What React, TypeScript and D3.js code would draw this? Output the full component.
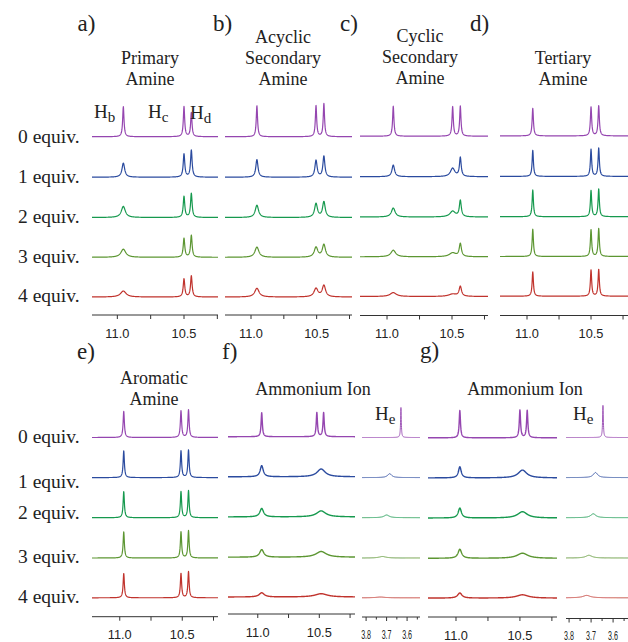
import React from "react";
import * as d3 from "d3";

// ---------- data ----------
const equivLabels = ["0 equiv.", "1 equiv.", "2 equiv.", "3 equiv.", "4 equiv."];
const traceColors = ["#9546b0", "#2b4b9f", "#16994e", "#5c9632", "#c0332d"];
const mainTickValues = [11.25, 11.0, 10.75, 10.5, 10.25];
const mainTickLabels = ["11.0", "10.5"];
const heTickValues = [3.8, 3.75, 3.7, 3.65, 3.6, 3.55];
const heTickLabels = ["3.8", "3.7", "3.6"];

// each peak: [ppm, relative intensity, half-width (ppm)]
type Peak = [number, number, number];

const primaryAmine: Peak[][] = [
  [[10.955, 1.0, 0.006], [10.5, 1.0, 0.006], [10.445, 0.8, 0.006]],
  [[10.955, 0.47, 0.012], [10.5, 0.77, 0.007], [10.445, 0.9, 0.007]],
  [[10.955, 0.37, 0.018], [10.5, 0.7, 0.007], [10.445, 0.8, 0.007]],
  [[10.955, 0.27, 0.022], [10.5, 0.63, 0.007], [10.445, 0.73, 0.007]],
  [[10.955, 0.2, 0.025], [10.5, 0.6, 0.007], [10.445, 0.7, 0.007]],
];
const acyclicSecondary: Peak[][] = [
  [[10.955, 1.03, 0.006], [10.505, 1.03, 0.006], [10.445, 1.1, 0.006]],
  [[10.955, 0.59, 0.01], [10.505, 0.56, 0.01], [10.445, 0.7, 0.009]],
  [[10.955, 0.41, 0.015], [10.505, 0.46, 0.013], [10.445, 0.52, 0.012]],
  [[10.955, 0.34, 0.018], [10.505, 0.33, 0.016], [10.445, 0.42, 0.014]],
  [[10.955, 0.29, 0.02], [10.505, 0.28, 0.018], [10.445, 0.38, 0.015]],
];
const cyclicSecondary: Peak[][] = [
  [[10.952, 1.0, 0.006], [10.495, 0.98, 0.006], [10.436, 1.0, 0.006]],
  [[10.952, 0.39, 0.012], [10.495, 0.28, 0.02], [10.436, 0.63, 0.008]],
  [[10.952, 0.3, 0.017], [10.495, 0.19, 0.025], [10.436, 0.54, 0.009]],
  [[10.952, 0.22, 0.022], [10.495, 0.13, 0.03], [10.436, 0.43, 0.01]],
  [[10.952, 0.13, 0.028], [10.495, 0.08, 0.035], [10.436, 0.33, 0.011]],
];
const tertiaryAmine: Peak[][] = [
  [[10.955, 0.92, 0.006], [10.5, 0.96, 0.006], [10.44, 1.0, 0.006]],
  [[10.955, 0.87, 0.006], [10.5, 0.9, 0.006], [10.44, 0.94, 0.006]],
  [[10.955, 0.89, 0.006], [10.5, 0.87, 0.006], [10.44, 0.92, 0.006]],
  [[10.955, 0.91, 0.006], [10.5, 0.89, 0.006], [10.44, 0.93, 0.006]],
  [[10.955, 0.81, 0.006], [10.5, 0.87, 0.006], [10.44, 0.89, 0.006]],
];
const aromaticAmine: Peak[][] = [
  [[10.968, 0.87, 0.006], [10.51, 0.89, 0.006], [10.45, 0.92, 0.006]],
  [[10.968, 0.89, 0.006], [10.51, 0.89, 0.006], [10.45, 0.92, 0.006]],
  [[10.968, 0.87, 0.006], [10.51, 0.87, 0.006], [10.45, 0.9, 0.006]],
  [[10.968, 0.87, 0.006], [10.51, 0.87, 0.006], [10.45, 0.91, 0.006]],
  [[10.968, 0.81, 0.006], [10.51, 0.81, 0.006], [10.45, 0.87, 0.006]],
];
const ammoniumF: Peak[][] = [
  [[10.968, 0.8, 0.006], [10.52, 0.8, 0.006], [10.465, 0.8, 0.006]],
  [[10.968, 0.37, 0.015], [10.485, 0.26, 0.04]],
  [[10.968, 0.28, 0.018], [10.485, 0.2, 0.045]],
  [[10.968, 0.25, 0.02], [10.485, 0.19, 0.05]],
  [[10.968, 0.14, 0.025], [10.485, 0.11, 0.06]],
];
const ammoniumFHe: Peak[][] = [
  [[3.63, 1.0, 0.002]],
  [[3.685, 0.13, 0.012]],
  [[3.7, 0.09, 0.015]],
  [[3.72, 0.05, 0.02]],
  [[3.73, 0.025, 0.025]],
];
const ammoniumG: Peak[][] = [
  [[10.97, 0.91, 0.006], [10.5, 0.92, 0.006], [10.443, 0.91, 0.006]],
  [[10.97, 0.37, 0.013], [10.48, 0.26, 0.04]],
  [[10.97, 0.33, 0.015], [10.48, 0.21, 0.045]],
  [[10.97, 0.3, 0.017], [10.48, 0.17, 0.05]],
  [[10.97, 0.17, 0.02], [10.48, 0.11, 0.055]],
];
const ammoniumGHe: Peak[][] = [
  [[3.646, 1.07, 0.002]],
  [[3.68, 0.17, 0.012]],
  [[3.69, 0.13, 0.014]],
  [[3.71, 0.09, 0.017]],
  [[3.72, 0.08, 0.02]],
];

// ---------- layout ----------
const W = 628;
const H = 642;
const row1Base = [136.7, 177.2, 217.5, 257.3, 297.0];
const row2Base = [437.5, 477.6, 517.7, 558.0, 597.8];
const row1LabelY = [136.7, 176.7, 216.7, 256.7, 295.7];
const row2LabelY = [436.7, 482, 513, 556.7, 596.7];

interface PanelSpec {
  data: Peak[][];
  x0: number;
  x1: number;
  domain: [number, number];
  axisY: number;
  bases: number[];
  he?: boolean;
  stroke: number;
}

const panels: PanelSpec[] = [
  { data: primaryAmine, x0: 92, x1: 218, domain: [11.19, 10.245], axisY: 315, bases: row1Base, stroke: 1.2 },
  { data: acyclicSecondary, x0: 225, x1: 352, domain: [11.198, 10.231], axisY: 315, bases: row1Base, stroke: 1.2 },
  { data: cyclicSecondary, x0: 360, x1: 488, domain: [11.208, 10.223], axisY: 315.5, bases: row1Base.map((b) => b - 0.5), stroke: 1.2 },
  { data: tertiaryAmine, x0: 500, x1: 632, domain: [11.211, 10.18], axisY: 315.5, bases: row1Base.map((b) => b - 0.8), stroke: 1.2 },
  { data: aromaticAmine, x0: 92, x1: 218, domain: [11.222, 10.214], axisY: 616.7, bases: row2Base, stroke: 1.2 },
  { data: ammoniumF, x0: 228, x1: 355, domain: [11.242, 10.21], axisY: 614, bases: row2Base.map((b) => b - 0.8), stroke: 1.4 },
  { data: ammoniumFHe, x0: 362, x1: 420, domain: [3.82, 3.537], axisY: 617, bases: row2Base, he: true, stroke: 0.9 },
  { data: ammoniumG, x0: 428, x1: 557, domain: [11.219, 10.21], axisY: 617, bases: row2Base.map((b) => b + 0.3), stroke: 1.4 },
  { data: ammoniumGHe, x0: 566, x1: 632, domain: [3.814, 3.514], axisY: 618.5, bases: row2Base, he: true, stroke: 0.9 },
];

const yIntensity = d3.scaleLinear().domain([0, 1]).range([0, 30]);

function spectrum(peaks: Peak[], domain: [number, number]): [number, number][] {
  const lo = Math.min(domain[0], domain[1]);
  const hi = Math.max(domain[0], domain[1]);
  const n = 700;
  const xs: number[] = d3.range(n + 1).map((i) => lo + ((hi - lo) * i) / n);
  peaks.forEach((p) => xs.push(p[0]));
  xs.sort((a, b) => a - b);
  return xs.map((x) => {
    let y = 0;
    for (const [c, h, w] of peaks) y += (h * w * w) / ((x - c) * (x - c) + w * w);
    return [x, y];
  });
}

const serif = "'Liberation Serif', 'Times New Roman', serif";
const sans = "'Liberation Sans', Arial, sans-serif";
const textColor = "#222";

function Panel({ p }: { p: PanelSpec }) {
  const x = d3.scaleLinear().domain(p.domain).range([p.x0, p.x1]);
  const ticks = (p.he ? heTickValues : mainTickValues).filter((t) => {
    const px = x(t);
    return px >= p.x0 - 0.5 && px <= p.x1 + 0.5;
  });
  const labels = p.he ? heTickLabels : mainTickLabels;
  return (
    <g>
      {p.data.map((peaks, i) => {
        const line = d3
          .line<[number, number]>()
          .x((d) => x(d[0]))
          .y((d) => p.bases[i] - yIntensity(d[1]));
        return (
          <path
            key={i}
            d={line(spectrum(peaks, p.domain)) || ""}
            fill="none"
            stroke={traceColors[i]}
            strokeWidth={p.stroke}
            strokeLinejoin="round"
          />
        );
      })}
      <line x1={p.x0} x2={p.x1} y1={p.axisY} y2={p.axisY} stroke="#333" strokeWidth={1} />
      {ticks.map((t) => {
        const major = p.he ? Math.abs((t * 10) % 1) < 0.01 || Math.abs((t * 10) % 1) > 0.99 : true;
        return (
          <line
            key={t}
            x1={x(t)}
            x2={x(t)}
            y1={p.axisY}
            y2={p.axisY + (major ? 4 : 2.5)}
            stroke="#333"
            strokeWidth={1}
          />
        );
      })}
      {labels.map((l) =>
        p.he ? (
          <text
            key={l}
            transform={`translate(${x(+l)},${p.axisY + 21.5}) scale(0.55,1)`}
            textAnchor="middle"
            fontFamily={sans}
            fontSize={13}
            fill={textColor}
          >
            {l}
          </text>
        ) : (
          <text
            key={l}
            x={x(+l)}
            y={p.axisY + 22.5}
            textAnchor="middle"
            fontFamily={sans}
            fontSize={12.8}
            fill={textColor}
          >
            {l}
          </text>
        )
      )}
    </g>
  );
}

const letters: [string, number, number][] = [
  ["a)", 77.5, 31],
  ["b)", 213, 31],
  ["c)", 340, 31],
  ["d)", 470, 31],
  ["e)", 77, 359],
  ["f)", 222, 359],
  ["g)", 420, 358],
];

const titles: [string[], number, number][] = [
  [["Primary", "Amine"], 150, 64.3],
  [["Acyclic", "Secondary", "Amine"], 283, 43],
  [["Cyclic", "Secondary", "Amine"], 420, 41.5],
  [["Tertiary", "Amine"], 563, 64],
  [["Aromatic", "Amine"], 154, 383.5],
  [["Ammonium Ion"], 313, 394.5],
  [["Ammonium Ion"], 525, 394.5],
];

const hLabels: [string, number, number][] = [
  ["b", 94, 118],
  ["c", 148, 118],
  ["d", 190, 118.5],
  ["e", 375, 420],
  ["e", 573, 420],
];

export default function App() {
  return (
    <svg
      width={W}
      height={H}
      viewBox={`0 0 ${W} ${H}`}
      style={{ position: "absolute", left: 0, top: 0, background: "#fff" }}
    >
      <rect width={W} height={H} fill="#fff" />
      {panels.map((p, i) => (
        <Panel key={i} p={p} />
      ))}
      {equivLabels.map((l, i) => (
        <text key={"r1" + i} x={18} y={row1LabelY[i] + 6} fontFamily={serif} fontSize={19.5} fill={textColor}>
          {l}
        </text>
      ))}
      {equivLabels.map((l, i) => (
        <text key={"r2" + i} x={18} y={row2LabelY[i] + 6} fontFamily={serif} fontSize={19.5} fill={textColor}>
          {l}
        </text>
      ))}
      {letters.map(([t, lx, ly]) => (
        <text key={t} x={lx} y={ly} fontFamily={serif} fontSize={23} fill={textColor}>
          {t}
        </text>
      ))}
      {titles.map(([lines, cx, by], i) => (
        <text key={"t" + i} textAnchor="middle" fontFamily={serif} fontSize={18} fill={textColor}>
          {lines.map((ln, j) => (
            <tspan key={j} x={cx} y={by + j * 21}>
              {ln}
            </tspan>
          ))}
        </text>
      ))}
      {hLabels.map(([s, hx, hy], i) => (
        <text key={"h" + i} x={hx} y={hy} fontFamily={serif} fontSize={19} fill={textColor}>
          H
          <tspan fontSize={15} dy={4}>
            {s}
          </tspan>
        </text>
      ))}
    </svg>
  );
}
